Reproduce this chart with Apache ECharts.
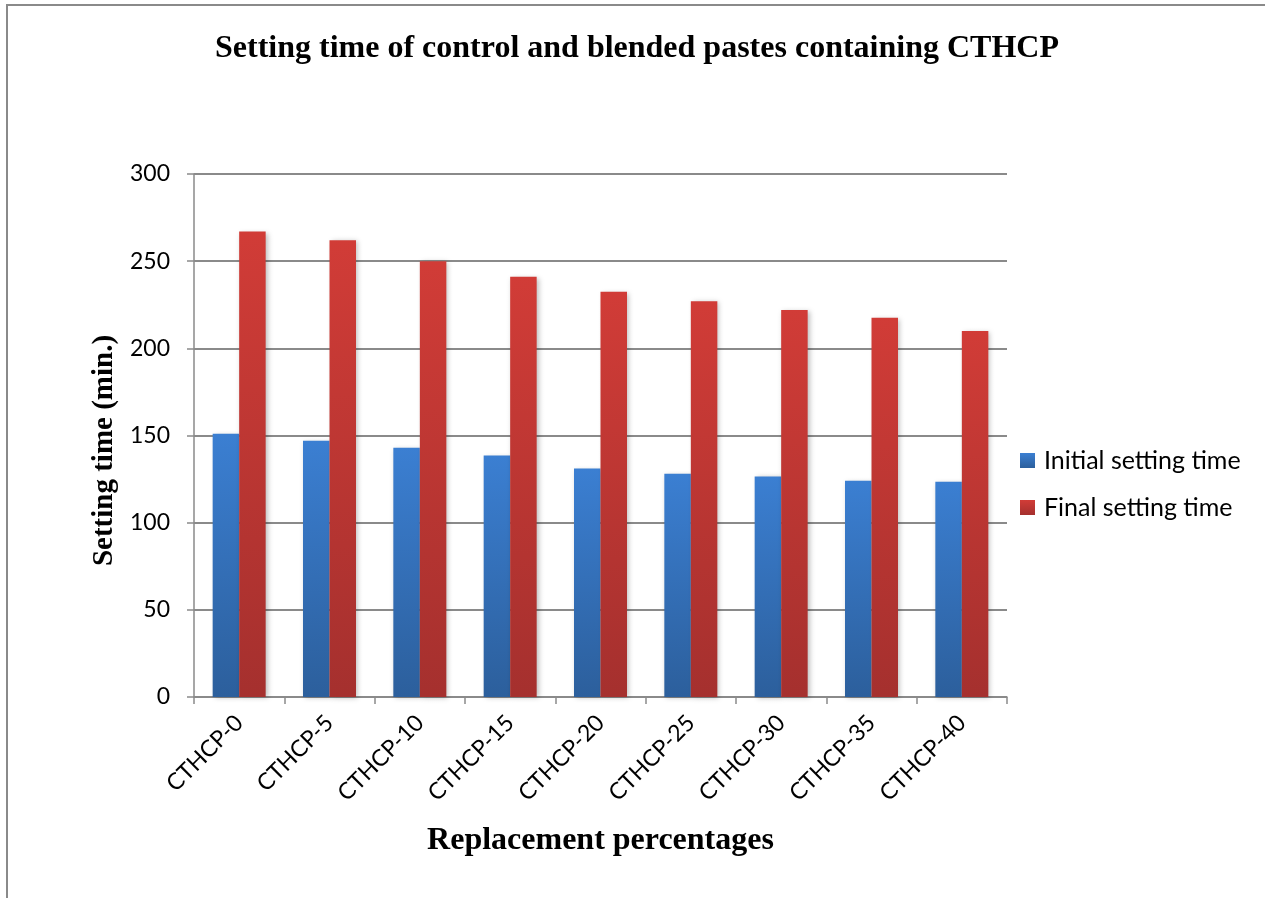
<!DOCTYPE html>
<html>
<head>
<meta charset="utf-8">
<script src="https://cdn.jsdelivr.net/npm/echarts@6/dist/echarts.min.js"></script>
<style>
  html, body { margin: 0; padding: 0; background: #fff; }
  #chart { width: 1265px; height: 898px; }
</style>
</head>
<body>
<div id="chart"></div>
<script>
// Setting time (minutes) of pastes with CTHCP replacement levels
const categories = ['CTHCP-0', 'CTHCP-5', 'CTHCP-10', 'CTHCP-15', 'CTHCP-20', 'CTHCP-25', 'CTHCP-30', 'CTHCP-35', 'CTHCP-40'];
const initialSetting = [151, 147, 143, 138.5, 131, 128, 126.5, 124, 123.5];
const finalSetting = [267, 262, 250, 241, 232.5, 227, 222, 217.5, 210];
const yTicks = { min: 0, max: 300, interval: 50 };

const serifBold = '"Liberation Serif", "DejaVu Serif", serif';
const labelFont = 'Lato, "Open Sans", sans-serif';

function vGrad(top, bottom) {
  return new echarts.graphic.LinearGradient(0, 0, 0, 1, [
    { offset: 0, color: top },
    { offset: 1, color: bottom }
  ]);
}

const chart = echarts.init(document.getElementById('chart'), null, { renderer: 'canvas' });

chart.setOption({
  backgroundColor: '#ffffff',
  animation: false,
  title: {
    text: 'Setting time of control and blended pastes containing CTHCP',
    left: 632,
    textAlign: 'center',
    top: 28,
    textStyle: { fontFamily: serifBold, fontWeight: 'bold', fontSize: 32, color: '#000' }
  },
  graphic: [
    { type: 'line', shape: { x1: 6, y1: 5, x2: 1265, y2: 5 }, style: { stroke: '#8a8a8a', lineWidth: 2 } },
    { type: 'line', shape: { x1: 7, y1: 4, x2: 7, y2: 898 }, style: { stroke: '#8a8a8a', lineWidth: 2 } }
  ],
  legend: {
    orient: 'vertical',
    left: 1015,
    top: 443,
    itemWidth: 15,
    itemHeight: 15,
    itemGap: 22,
    icon: 'rect',
    textStyle: { fontFamily: labelFont, fontSize: 25, color: '#000', padding: [0, 0, 0, 4] },
    data: ['Initial setting time', 'Final setting time']
  },
  grid: { left: 194, right: 258, top: 174, bottom: 201, containLabel: false },
  xAxis: {
    type: 'category',
    data: categories,
    name: 'Replacement percentages',
    nameLocation: 'middle',
    nameGap: 128,
    nameTextStyle: { fontFamily: serifBold, fontWeight: 'bold', fontSize: 32, color: '#000' },
    axisLine: { lineStyle: { color: '#8a8a8a', width: 1.5 } },
    axisTick: { show: true, length: 7, alignWithLabel: false, lineStyle: { color: '#8a8a8a', width: 1.5 } },
    axisLabel: { rotate: 45, margin: 22, fontFamily: labelFont, fontSize: 23, color: '#000', interval: 0 }
  },
  yAxis: {
    type: 'value',
    min: yTicks.min,
    max: yTicks.max,
    interval: yTicks.interval,
    name: 'Setting time (min.)',
    nameLocation: 'middle',
    nameGap: 75,
    nameTextStyle: { fontFamily: serifBold, fontWeight: 'bold', fontSize: 29, color: '#000', padding: [0, 30, 0, 0] },
    axisLine: { show: true, lineStyle: { color: '#8a8a8a', width: 1.5 } },
    axisTick: { show: true, length: 7, lineStyle: { color: '#8a8a8a', width: 1.5 } },
    axisLabel: { margin: 24, fontFamily: labelFont, fontSize: 23, color: '#000' },
    splitLine: { show: true, lineStyle: { color: '#8a8a8a', width: 2 } }
  },
  series: [
    {
      name: 'Initial setting time',
      type: 'bar',
      data: initialSetting,
      barWidth: 26.5,
      barGap: '0%',
      itemStyle: {
        color: vGrad('#3b7fd2', '#2c5f9c'),
        shadowColor: 'rgba(0,0,0,0.25)', shadowBlur: 5, shadowOffsetX: 2, shadowOffsetY: 1
      }
    },
    {
      name: 'Final setting time',
      type: 'bar',
      data: finalSetting,
      barWidth: 26.5,
      barGap: '0%',
      itemStyle: {
        color: vGrad('#d13c37', '#a5302e'),
        shadowColor: 'rgba(0,0,0,0.25)', shadowBlur: 5, shadowOffsetX: 2, shadowOffsetY: 1
      }
    }
  ]
});
</script>
</body>
</html>
